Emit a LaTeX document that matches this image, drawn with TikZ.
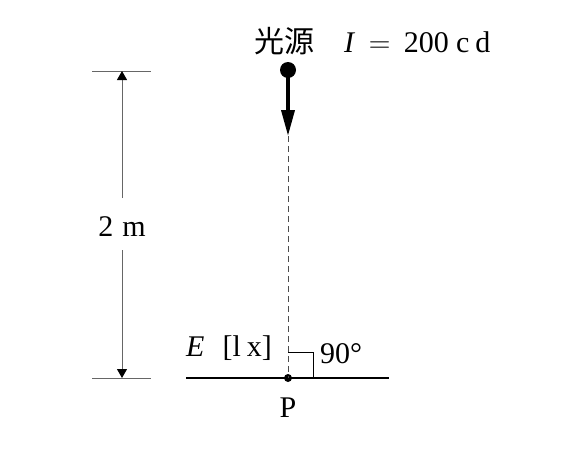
\documentclass[tikz,border=0pt]{standalone}
\usepackage{fontspec}
\setmainfont{Liberation Serif}
\newfontfamily\cjk{Noto Sans CJK JP}
\newfontfamily\lmr{Latin Modern Roman}
\usetikzlibrary{arrows.meta}
\begin{document}
\begin{tikzpicture}[x=1pt,y=-1pt,
  lbl/.style={font=\fontsize{30}{34}\selectfont, inner sep=0pt},
  dimline/.style={draw=black!60, line width=1pt},
  dimtip/.style={-{Triangle[length=9pt,width=10pt,color=black]}},
  dot/.style={circle, fill=black, inner sep=0pt}]
\useasboundingbox (0,0) rectangle (570,450);
% source and point
\node[dot, minimum size=16pt] (src) at (288,70) {};
\coordinate (tip) at (288,136);
\node[dot, minimum size=8pt] (P) at (288,378) {};
\coordinate (gl) at (186,378);
\coordinate (gr) at (389,378);
% ground
\draw[line width=2.2pt] (gl) -- (gr);
% dashed line
\draw[black!70, line width=1pt, dash pattern=on 6pt off 4pt] (tip) -- (P.center);
% arrow
\draw[line width=3.6pt, -{Triangle[length=26pt,width=13pt]}] (src.center) -- (tip);
% right angle
\coordinate (ra1) at (288,352);
\coordinate (ra2) at (313,352);
\coordinate (ra3) at (313,378);
\draw[line width=1pt] (ra1) -- (ra2) -- (ra3);
% labels
\node[lbl, anchor=base west] (src-l) at (254,52) {\cjk 光源};
\node[lbl, anchor=base west] (int) at (344,52) {\textit{I}\hspace{0.45em}{\lmr =}\hspace{0.45em}200\hspace{0.24em}c\hspace{0.2em}d};
\node[lbl, anchor=base west] (E) at (186,356) {\textit{E}\hspace{0.6em}[l\hspace{0.2em}x]};
\node[lbl, anchor=base west] (ang) at (320,363) {90°};
\node[lbl, anchor=base] (Pl) at (288,417) {P};
% dimension
\coordinate (t1) at (92,71); \coordinate (t2) at (151,71);
\coordinate (b1) at (92,378); \coordinate (b2) at (151,378);
\draw[dimline] (t1) -- (t2);
\draw[dimline] (b1) -- (b2);
\node[lbl, anchor=base] (dim) at (122,236) {2\hspace{0.3em}m};
\coordinate (dt) at (122,71); \coordinate (db) at (122,378);
\draw[dimline, dimtip] (122,198) -- (dt);
\draw[dimline, dimtip] (122,250) -- (db);
\end{tikzpicture}
\end{document}
